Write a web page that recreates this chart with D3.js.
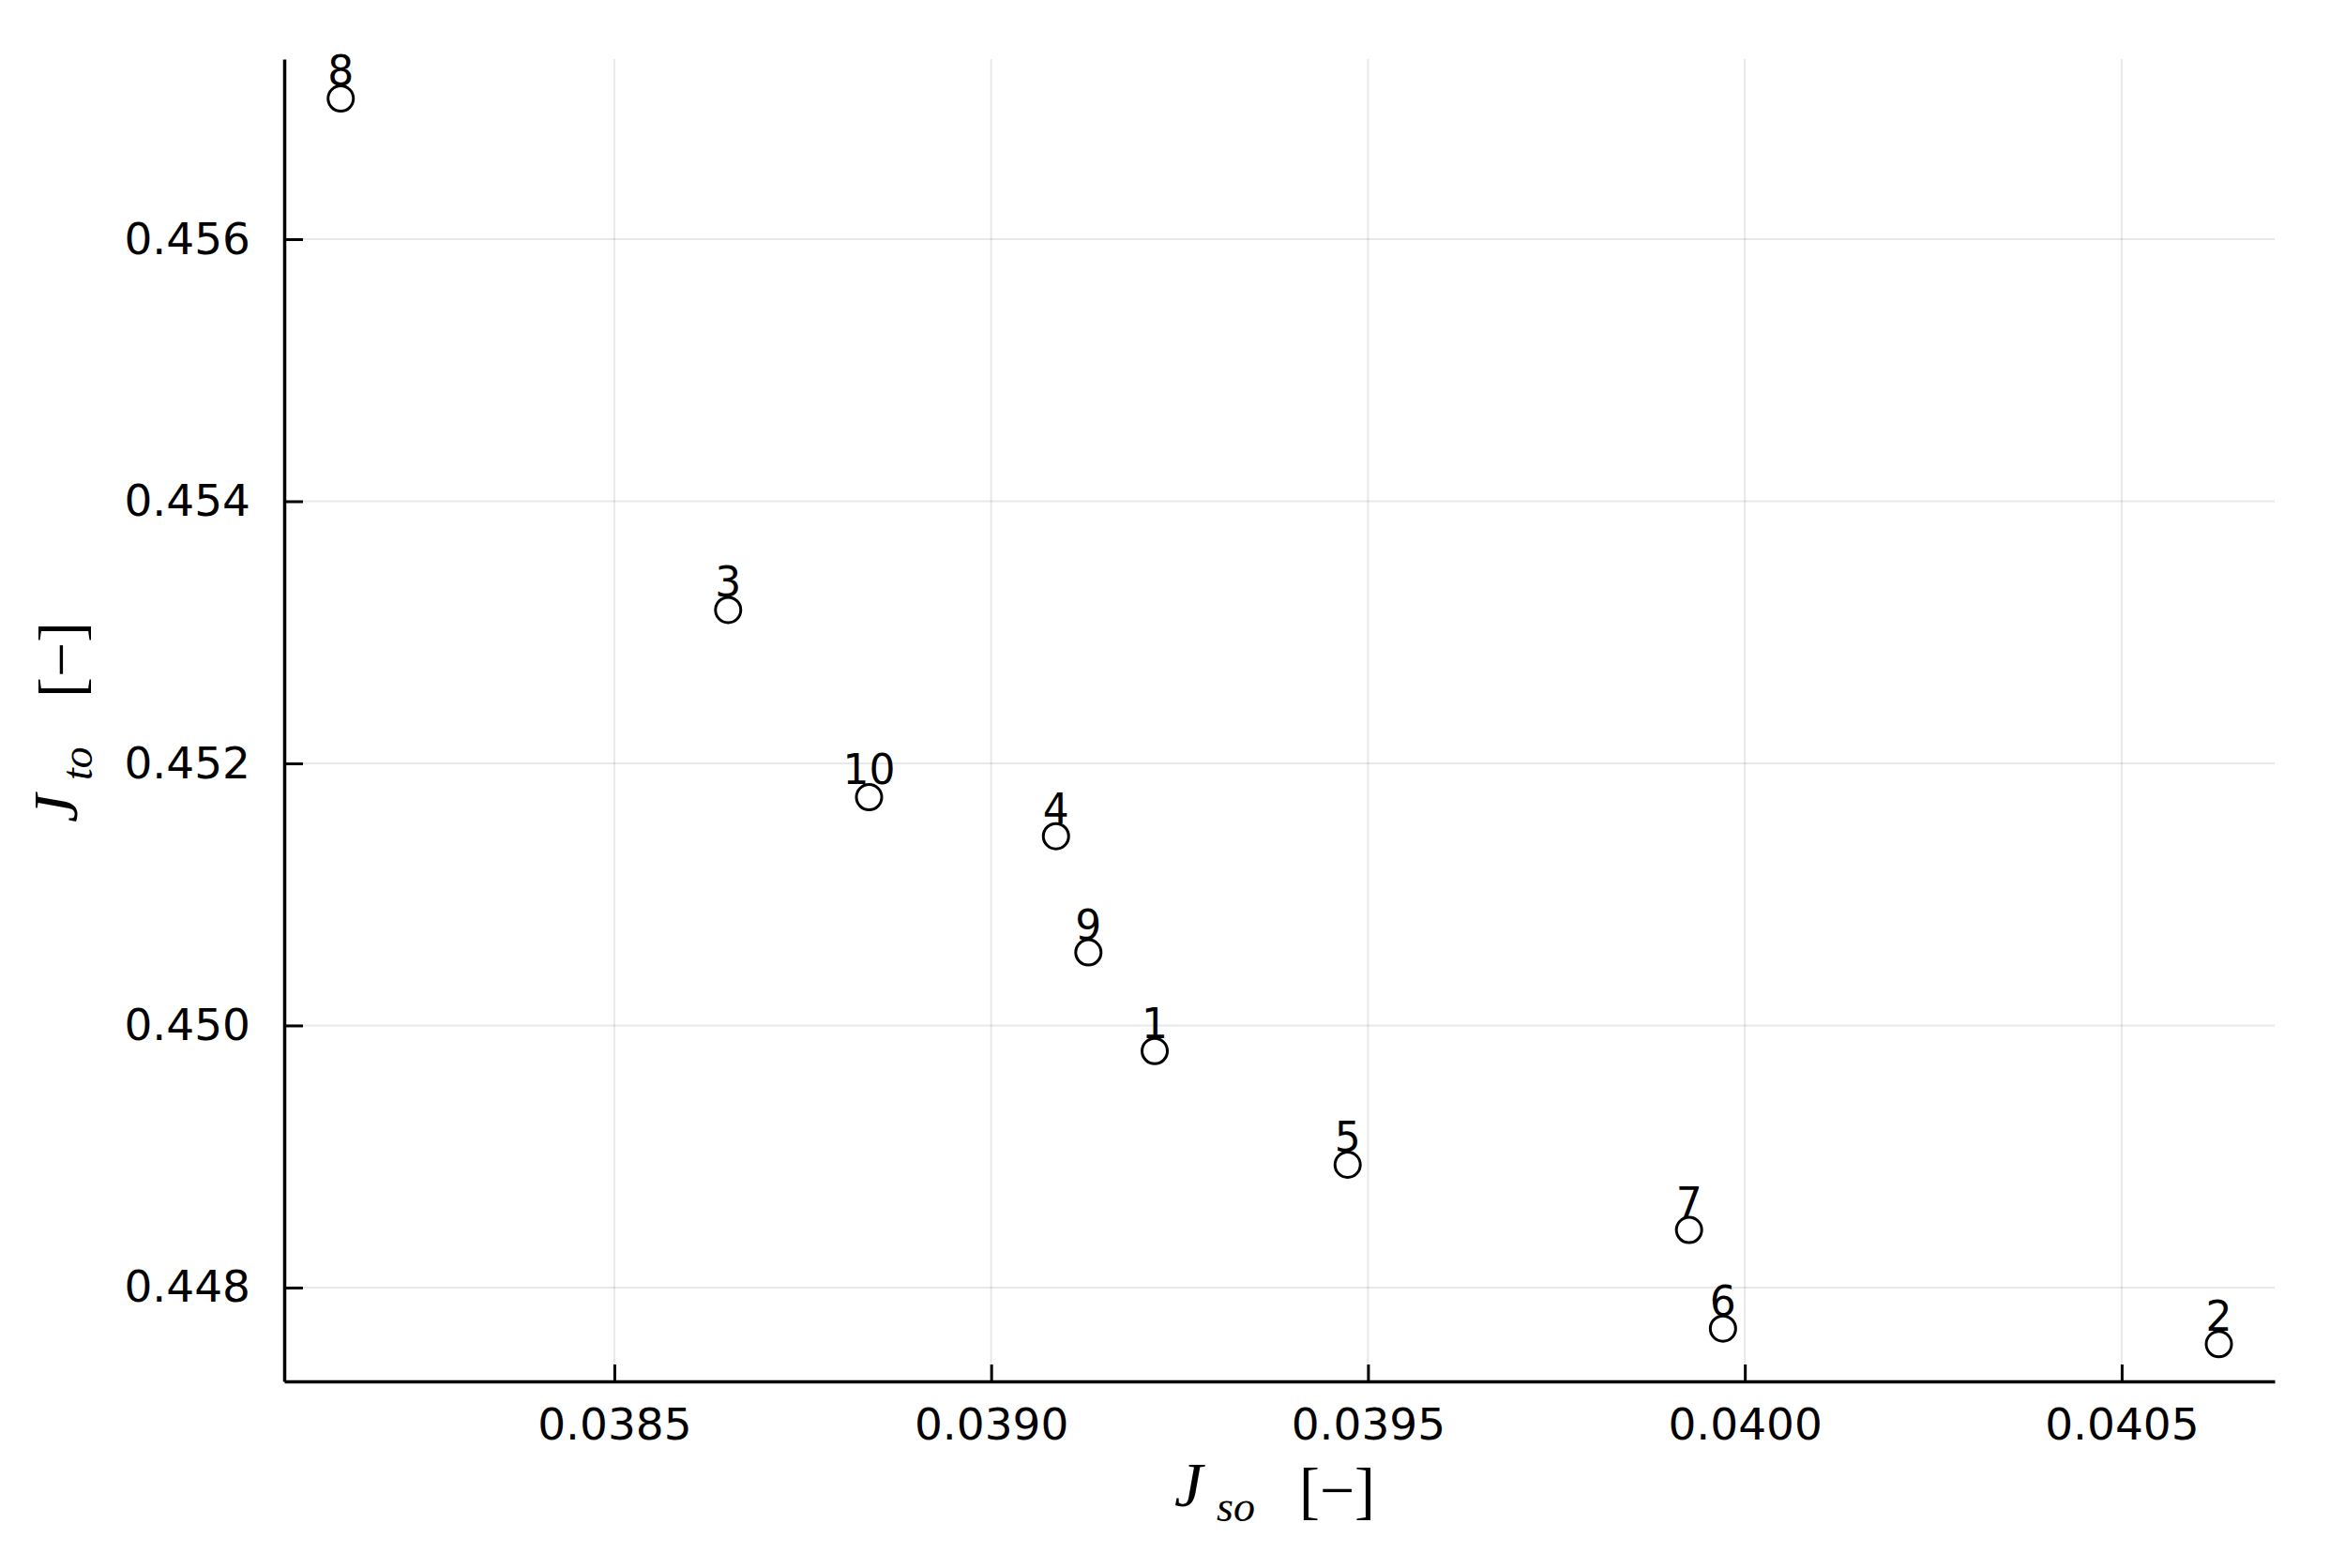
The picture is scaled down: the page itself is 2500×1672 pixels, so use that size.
<!DOCTYPE html>
<html>
<head>
<meta charset="utf-8">
<script src="https://cdn.jsdelivr.net/npm/d3@7"></script>
<style>
  html, body { margin: 0; padding: 0; background: #fff; }
  svg { display: block; }
</style>
</head>
<body>
<script>
// ---- data ----
const labels = ["1", "2", "3", "4", "5", "6", "7", "8", "9", "10"];
const jso = [0.039217, 0.040629, 0.038651, 0.039086, 0.039473, 0.039971, 0.039926, 0.038137, 0.039129, 0.038838];
const jto = [0.449804, 0.447568, 0.453170, 0.451444, 0.448937, 0.447687, 0.448439, 0.457073, 0.450557, 0.451742];
const xTicks = [0.0385, 0.0390, 0.0395, 0.0400, 0.0405];
const xTickLabels = ["0.0385", "0.0390", "0.0395", "0.0400", "0.0405"];
const yTicks = [0.448, 0.450, 0.452, 0.454, 0.456];
const yTickLabels = ["0.448", "0.450", "0.452", "0.454", "0.456"];
const xDomain = [0.038062, 0.040703];
const yDomain = [0.447284, 0.457374];

// ---- layout ----
const W = 2500, H = 1672;
const L = 303, R = 2425, T = 63, B = 1473;

const svg = d3.select("body").append("svg").attr("width", W).attr("height", H);

const x = d3.scaleLinear().domain(xDomain).range([L, R]);
const y = d3.scaleLinear().domain(yDomain).range([B, T]);

// grid
const grid = svg.append("g");
grid.selectAll("line.gx").data(xTicks).join("line")
  .attr("x1", d => x(d)).attr("x2", d => x(d)).attr("y1", T).attr("y2", B)
  .attr("stroke", "#000").attr("stroke-opacity", 0.09).attr("stroke-width", 2);
grid.selectAll("line.gy").data(yTicks).join("line")
  .attr("y1", d => y(d)).attr("y2", d => y(d)).attr("x1", L).attr("x2", R)
  .attr("stroke", "#000").attr("stroke-opacity", 0.09).attr("stroke-width", 2);

// axes
const fontTick = "DejaVu Sans";
const xAxis = d3.axisBottom(x).tickValues(xTicks).tickFormat((d, i) => xTickLabels[i])
  .tickSizeInner(-18).tickSizeOuter(0).tickPadding(29);
const gx = svg.append("g").attr("transform", `translate(0,${B})`).call(xAxis);
gx.select(".domain").attr("stroke", "#000").attr("stroke-width", 3.5);
gx.selectAll(".tick line").attr("stroke", "#000").attr("stroke-width", 3);
gx.selectAll(".tick text").attr("font-family", fontTick).attr("font-size", 47).attr("fill", "#000");

const yAxis = d3.axisLeft(y).tickValues(yTicks).tickFormat((d, i) => yTickLabels[i])
  .tickSizeInner(-20).tickSizeOuter(0).tickPadding(36);
const gy = svg.append("g").attr("transform", `translate(${L},0)`).call(yAxis);
gy.select(".domain").attr("stroke", "#000").attr("stroke-width", 3.5);
gy.selectAll(".tick line").attr("stroke", "#000").attr("stroke-width", 3);
gy.selectAll(".tick text").attr("font-family", fontTick).attr("font-size", 47).attr("fill", "#000");

// points
const pts = labels.map((l, i) => ({ l, x: jso[i], y: jto[i] }));
svg.append("g").selectAll("circle").data(pts).join("circle")
  .attr("cx", d => x(d.x)).attr("cy", d => y(d.y)).attr("r", 13.5)
  .attr("fill", "#fff").attr("stroke", "#000").attr("stroke-width", 3);

svg.append("g").selectAll("text").data(pts).join("text")
  .attr("x", d => x(d.x)).attr("y", d => y(d.y) - 14)
  .attr("text-anchor", "middle")
  .attr("font-family", fontTick).attr("font-size", 44).attr("fill", "#000")
  .text(d => d.l);

// axis titles (math style)
const serif = "Liberation Serif";
function mathLabel(g, sub) {
  g.append("text").attr("x", 0).attr("y", 0)
    .attr("font-family", serif).attr("font-style", "italic").attr("font-size", 68).attr("fill", "#000")
    .text("J");
  g.append("text").attr("x", 45).attr("y", 16)
    .attr("font-family", serif).attr("font-style", "italic").attr("font-size", 46).attr("fill", "#000")
    .text(sub);
  g.append("text").attr("x", 133).attr("y", 6).attr("textLength", 81).attr("lengthAdjust", "spacingAndGlyphs")
    .attr("font-family", serif).attr("font-size", 68).attr("fill", "#000")
    .text("[−]");
}
mathLabel(svg.append("g").attr("transform", "translate(1252,1606)"), "so");
mathLabel(svg.append("g").attr("transform", "translate(82,877) rotate(-90)"), "to");
</script>
</body>
</html>
